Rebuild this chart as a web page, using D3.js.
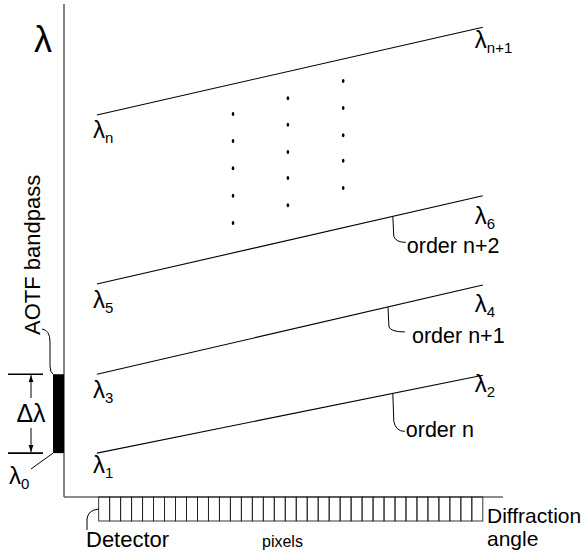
<!DOCTYPE html>
<html>
<head>
<meta charset="utf-8">
<script src="https://cdn.jsdelivr.net/npm/d3@7/dist/d3.min.js"></script>
<style>
  html, body { margin: 0; padding: 0; background: #fff; }
  svg { display: block; font-family: "Liberation Sans", Arial, sans-serif; }
</style>
</head>
<body>
<svg id="chart" width="588" height="556"></svg>
<script>
// ---- data (abstract units: diffraction angle 0..100, wavelength 0..100) ----
const orderNames   = ["order n", "order n+1", "order n+2", ""];
const lambdaStart  = [8.9, 24.9, 43.2, 77.5];
const lambdaEnd    = [24.7, 43.0, 61.1, 95.3];
const startLabels  = ["1", "3", "5", "n"];
const endLabels    = ["2", "4", "6", "n+1"];
const angleStart   = 7.5;
const angleEnd     = 95.4;
const calloutAngle = [74.9, 73.8, 74.9];
const dotColumnAngles = [38.5, 51.0, 63.6];
const dotColumnLambdas = [
  [77.7, 72.2, 66.7, 61.1, 55.6],
  [80.9, 75.5, 70.0, 64.7, 59.2],
  [84.4, 78.9, 73.4, 68.2, 62.7]
];
const bandLow  = 8.9;   // lambda_0
const bandHigh = 24.9;  // top of AOTF bandpass
const detectorPixels = d3.range(35);
const detectorStart = 7.9, detectorEnd = 95.4;

// ---- layout ----
const svg = d3.select("#chart");
const x = d3.scaleLinear().domain([0, 100]).range([64, 503]);
const y = d3.scaleLinear().domain([0, 100]).range([497, 4]);

const ink = "#000";

// axes
svg.append("line").attr("x1", x(0)).attr("y1", y(100)).attr("x2", x(0)).attr("y2", y(0))
  .attr("stroke", "#666").attr("stroke-width", 1.6);
svg.append("line").attr("x1", x(0)).attr("y1", y(0)).attr("x2", x(100)).attr("y2", y(0))
  .attr("stroke", "#666").attr("stroke-width", 1.6);

// big lambda axis label
svg.append("text").attr("x", 43).attr("y", 52).attr("text-anchor", "middle")
  .attr("font-size", 36).attr("fill", ink).text("λ");

// order lines
const orders = lambdaStart.map((s, i) => ({ s, e: lambdaEnd[i], name: orderNames[i], sl: startLabels[i], el: endLabels[i] }));
svg.selectAll("line.order").data(orders).join("line").attr("class", "order")
  .attr("x1", x(angleStart)).attr("y1", d => y(d.s))
  .attr("x2", x(angleEnd)).attr("y2", d => y(d.e))
  .attr("stroke", ink).attr("stroke-width", 1.1);

// lambda labels
const leftDy  = [20, 24, 24, 23];
const rightDy = [17, 27, 28, 21];
function lamLabel(px, py, sub) {
  const t = svg.append("text").attr("x", px).attr("y", py).attr("font-size", 24).attr("fill", ink);
  t.append("tspan").text("λ");
  t.append("tspan").attr("font-size", 15).attr("dy", 5).text(sub);
}
orders.forEach((d, i) => {
  lamLabel(x(angleStart) - 4, y(d.s) + leftDy[i], d.sl);
  lamLabel(x(angleEnd) - 8, y(d.e) + rightDy[i], d.el);
});

// order callouts: [unused, drop, hookDx, hookDy, textDx, textDy]
const calloutDrop = [[0, 28, 12, 38, 1, 6], [0, 20, 17, 25, 7, 11], [0, 20, 13, 26, 1, 11]];
orders.slice(0, 3).forEach((d, i) => {
  const ax = x(calloutAngle[i]);
  const ay = y(d.s + (d.e - d.s) * (calloutAngle[i] - angleStart) / (angleEnd - angleStart));
  const [dx0, dy0, dx1, dy1, tdx, tdy] = calloutDrop[i];
  svg.append("path")
    .attr("d", `M${ax},${ay} L${ax + 1},${ay + dy0} Q${ax + 3},${ay + dy1} ${ax + dx1},${ay + dy1}`)
    .attr("fill", "none").attr("stroke", ink).attr("stroke-width", 1);
  svg.append("text").attr("x", ax + dx1 + tdx).attr("y", ay + dy1 + tdy)
    .attr("font-size", 21.5).attr("fill", ink).text(d.name);
});

// dots
dotColumnAngles.forEach((a, ci) => {
  svg.selectAll(null).data(dotColumnLambdas[ci]).join("ellipse")
    .attr("cx", x(a)).attr("cy", d => y(d)).attr("rx", 1.3).attr("ry", 2)
    .attr("fill", ink);
});

// AOTF bandpass bar
svg.append("rect").attr("x", x(0) - 11).attr("y", y(bandHigh)).attr("width", 11)
  .attr("height", y(bandLow) - y(bandHigh)).attr("fill", ink);

// delta-lambda marks
[bandHigh, bandLow].forEach(v => {
  svg.append("line").attr("x1", 8).attr("x2", 43).attr("y1", y(v)).attr("y2", y(v))
    .attr("stroke", ink).attr("stroke-width", 1.6);
});
const defs = svg.append("defs");
defs.append("marker").attr("id", "arr").attr("viewBox", "0 0 10 10").attr("refX", 10).attr("refY", 5)
  .attr("markerWidth", 7).attr("markerHeight", 7).attr("orient", "auto-start-reverse")
  .append("path").attr("d", "M0,1.5 L10,5 L0,8.5 Z").attr("fill", ink);
svg.append("line").attr("x1", 31).attr("x2", 31).attr("y1", 398).attr("y2", y(bandHigh) + 1)
  .attr("stroke", ink).attr("stroke-width", 1).attr("marker-end", "url(#arr)");
svg.append("line").attr("x1", 31).attr("x2", 31).attr("y1", 428).attr("y2", y(bandLow) - 1)
  .attr("stroke", ink).attr("stroke-width", 1).attr("marker-end", "url(#arr)");
svg.append("text").attr("x", 31).attr("y", 422).attr("text-anchor", "middle")
  .attr("font-size", 25).attr("fill", ink).text("Δλ");

// lambda_0 label + leader
svg.append("line").attr("x1", 31).attr("y1", 469).attr("x2", x(0) - 11).attr("y2", y(bandLow))
  .attr("stroke", ink).attr("stroke-width", 1);
lamLabel(9, 484, "0");

// AOTF bandpass label + leader
svg.append("text").attr("transform", "translate(40,335) rotate(-90)")
  .attr("font-size", 22).attr("fill", ink).text("AOTF bandpass");
svg.append("path").attr("d", `M42,329 Q50,330 50,342 L50,366 Q50,372 ${x(0) - 11},${y(bandHigh)}`)
  .attr("fill", "none").attr("stroke", ink).attr("stroke-width", 1);

// detector pixels
const px = d3.scaleBand().domain(detectorPixels).range([x(detectorStart), x(detectorEnd)]);
svg.selectAll("rect.pix").data(detectorPixels).join("rect").attr("class", "pix")
  .attr("x", d => px(d)).attr("y", y(0)).attr("width", px.bandwidth()).attr("height", 24)
  .attr("fill", "none").attr("stroke", "#222").attr("stroke-width", 0.9);

// detector labels
svg.append("path").attr("d", `M${x(detectorStart)},509 Q88,510 87,519 L87,530`)
  .attr("fill", "none").attr("stroke", ink).attr("stroke-width", 1);
svg.append("text").attr("x", 86).attr("y", 547).attr("font-size", 22).attr("fill", ink).text("Detector");
svg.append("text").attr("x", 262).attr("y", 547).attr("font-size", 16).attr("fill", ink).text("pixels");
svg.append("text").attr("x", 487).attr("y", 523).attr("font-size", 21).attr("fill", ink).text("Diffraction");
svg.append("text").attr("x", 487).attr("y", 546).attr("font-size", 21).attr("fill", ink).text("angle");
</script>
</body>
</html>
